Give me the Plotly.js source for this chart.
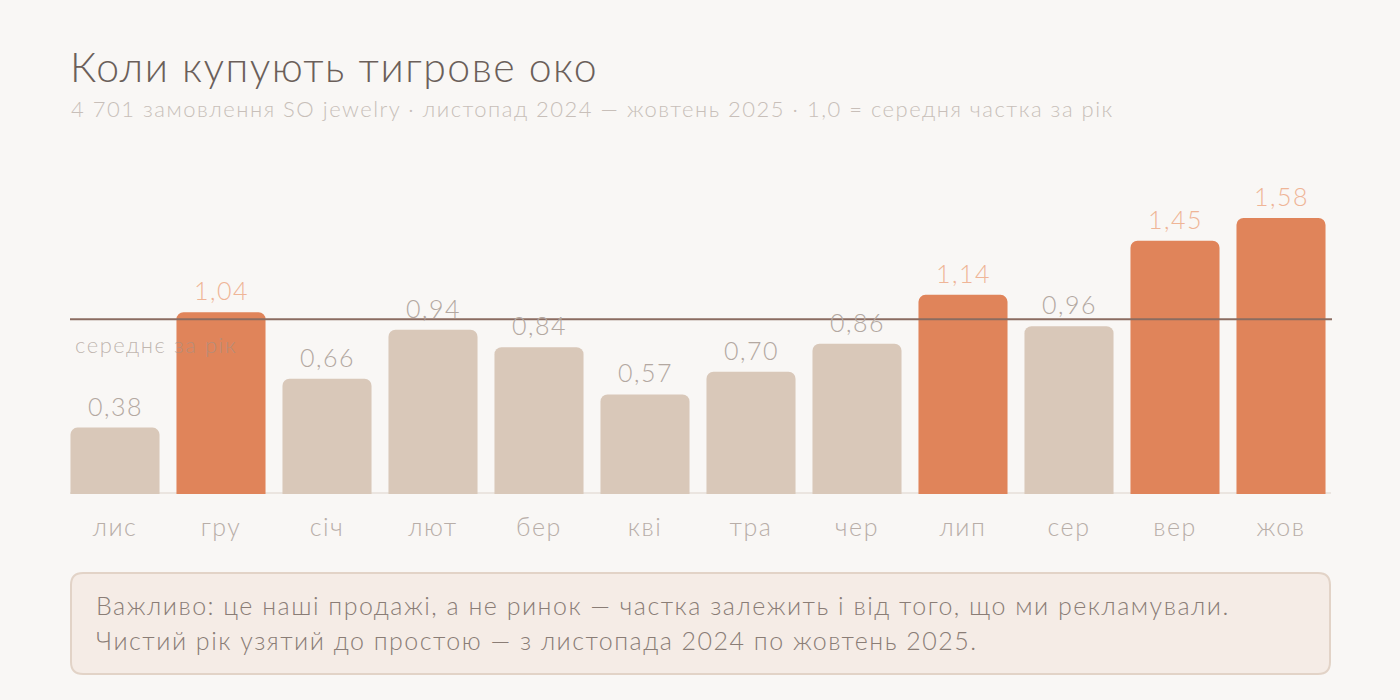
<!DOCTYPE html>
<html>
<head>
<meta charset="utf-8">
<script src="https://cdn.plot.ly/plotly-3.0.1.min.js"></script>
<style>
  html, body { margin: 0; padding: 0; background: #f9f7f5; }
  #chart { width: 1400px; height: 700px; }
  #chart text { letter-spacing: 1.5px; }
</style>
</head>
<body>
<div id="chart"></div>
<script>
// monthly share of orders, 1.0 = yearly average
const months = ['лис', 'гру', 'січ', 'лют', 'бер', 'кві', 'тра', 'чер', 'лип', 'сер', 'вер', 'жов'];
const shares = [0.38, 1.04, 0.66, 0.94, 0.84, 0.57, 0.70, 0.86, 1.14, 0.96, 1.45, 1.58];
const labels = ['0,38', '1,04', '0,66', '0,94', '0,84', '0,57', '0,70', '0,86', '1,14', '0,96', '1,45', '1,58'];
const highlighted = [false, true, false, false, false, false, false, false, true, false, true, true];
const yearMean = 1.0;

const titleText = 'Коли купують тигрове око';
const subtitleText = '4 701 замовлення SO jewelry · листопад 2024 — жовтень 2025 · 1,0 = середня частка за рік';
const noteLines = [
    'Важливо: це наші продажі, а не ринок — частка залежить і від того, що ми рекламували.',
    'Чистий рік узятий до простою — з листопада 2024 по жовтень 2025.'
];

const FONT = 'Lato, Inter, sans-serif';
const ORANGE = '#e0845a';
const BEIGE = '#d9c8b9';

// plot area in pixels, used to place the note box in paper coords
const W = 1400, H = 700;
const margin = {l: 62, r: 66, t: 150, b: 206};
const pw = W - margin.l - margin.r;
const ph = H - margin.t - margin.b;
const px = x => (x - margin.l) / pw;
const py = y => (H - margin.b - y) / ph;

function roundRect(x0, y0, x1, y1, r) {
    const a = px(x0), b = px(x1), c = py(y0), d = py(y1);
    const rx = r / pw, ry = r / ph;
    return `M${a + rx},${c} L${b - rx},${c} Q${b},${c} ${b},${c - ry} ` +
        `L${b},${d + ry} Q${b},${d} ${b - rx},${d} L${a + rx},${d} ` +
        `Q${a},${d} ${a},${d + ry} L${a},${c - ry} Q${a},${c} ${a + rx},${c} Z`;
}

// left-aligned text block in paper coords
function leftText(x, y, text, size, color) {
    return {xref: 'paper', yref: 'paper', x: px(x), y: py(y),
        xanchor: 'left', yanchor: 'middle', align: 'left', showarrow: false,
        text: text, font: {family: FONT, size: size, weight: 300, color: color}};
}

const data = [{
    type: 'bar',
    x: months,
    y: shares,
    marker: {
        color: highlighted.map(h => h ? ORANGE : BEIGE),
        cornerradius: 7,
        line: {width: 0}
    },
    hoverinfo: 'skip'
}];

const valueNotes = months.map((m, i) => ({
    x: m, y: shares[i], xref: 'x', yref: 'y',
    text: labels[i], showarrow: false,
    yanchor: 'bottom', yshift: 5,
    font: {family: FONT, size: 25, weight: 300, color: highlighted[i] ? '#efb597' : '#b3a8a1'}
}));

const layout = {
    width: W, height: H,
    margin: margin,
    paper_bgcolor: '#f9f7f5',
    plot_bgcolor: '#f9f7f5',
    showlegend: false,
    bargap: 0.16,
    font: {family: FONT, weight: 300},
    xaxis: {
        type: 'category',
        range: [-0.5, 11.5],
        showgrid: false, zeroline: false, showline: false,
        ticks: '', ticklabelstandoff: 16,
        tickfont: {family: FONT, size: 25, weight: 300, color: '#b8aea8'},
        fixedrange: true
    },
    yaxis: {
        range: [0, 1.969],
        visible: false,
        fixedrange: true
    },
    shapes: [
        {type: 'line', xref: 'paper', yref: 'y', x0: px(70), x1: px(1331), y0: 0, y1: 0,
            line: {color: '#ebe5e0', width: 4}, layer: 'below'},
        {type: 'line', xref: 'paper', yref: 'y', x0: px(70), x1: px(1332), y0: yearMean, y1: yearMean,
            line: {color: '#8b6c61', width: 2}, layer: 'above'},
        {type: 'path', xref: 'paper', yref: 'paper', path: roundRect(71, 573, 1330, 674, 12),
            fillcolor: '#f5ece6', line: {color: '#e2d3c7', width: 2}, layer: 'below'}
    ],
    annotations: valueNotes.concat([
        leftText(73, 344, 'середнє за рік', 22, 'rgba(160,145,136,0.65)'),
        leftText(68, 66, titleText, 41, '#6b5f5a'),
        leftText(69, 108, subtitleText, 22, '#c8bfb9'),
        leftText(94, 605, noteLines[0], 25, '#8a7d76'),
        leftText(94, 640, noteLines[1], 25, '#8a7d76')
    ])
};

Plotly.newPlot('chart', data, layout, {displayModeBar: false, staticPlot: true});
</script>
</body>
</html>
